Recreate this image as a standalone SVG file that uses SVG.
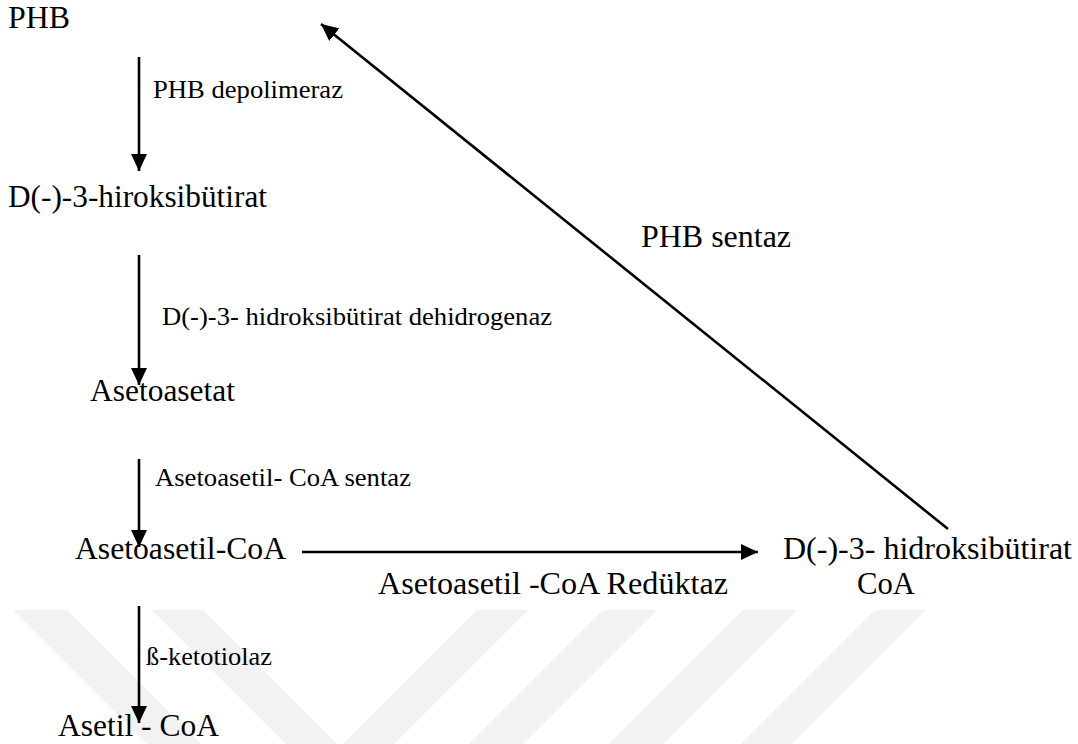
<svg xmlns="http://www.w3.org/2000/svg" width="1078" height="744" viewBox="0 0 1078 744">
<style>
text{font-family:"Liberation Serif","Times New Roman",Times,"DejaVu Serif",serif;fill:#000}
.n{font-size:31.5px}
.l{font-size:25.5px}
.c{stroke:#000;stroke-width:2.6;fill:none}
.wm{fill:#f2f2f2}
</style>
<defs>
<marker id="ah" markerUnits="userSpaceOnUse" markerWidth="17" markerHeight="16" refX="17" refY="8" orient="auto">
<path d="M0,0 L17,8 L0,16 z" fill="#000"/>
</marker>
</defs>
<rect width="1078" height="744" fill="#fff"/>
<g id="watermark">
<polygon class="wm" points="13,610 67,610 201,744 147,744"/>
<polygon class="wm" points="152,610 203,610 337,744 286,744"/>
<polygon class="wm" points="477,610 528,610 394,744 343,744"/>
<polygon class="wm" points="603,610 657,610 523,744 469,744"/>
<polygon class="wm" points="743,610 797,610 663,744 609,744"/>
<polygon class="wm" points="875,610 926,610 792,744 741,744"/>
</g>
<g id="connectors">
<line class="c" x1="139" y1="57" x2="139" y2="171" marker-end="url(#ah)"/>
<line class="c" x1="139" y1="255" x2="139" y2="385" marker-end="url(#ah)"/>
<line class="c" x1="139" y1="459" x2="139" y2="547" marker-end="url(#ah)"/>
<line class="c" x1="139" y1="606" x2="139" y2="723" marker-end="url(#ah)"/>
<line class="c" x1="302" y1="552" x2="758" y2="552" marker-end="url(#ah)"/>
<line class="c" x1="948" y1="529" x2="321" y2="24" marker-end="url(#ah)"/>
</g>
<g id="n-phb"><text class="n" x="8" y="28" textLength="62" lengthAdjust="spacingAndGlyphs">PHB</text></g>
<g id="l-depolimeraz"><text class="l" x="153" y="98" textLength="190" lengthAdjust="spacingAndGlyphs">PHB depolimeraz</text></g>
<g id="n-hiroksibutirat"><text class="n" x="8" y="207" textLength="259" lengthAdjust="spacingAndGlyphs">D(-)-3-hiroksibütirat</text></g>
<g id="l-dehidrogenaz"><text class="l" x="162" y="325" textLength="390" lengthAdjust="spacingAndGlyphs">D(-)-3- hidroksibütirat dehidrogenaz</text></g>
<g id="n-asetoasetat"><text class="n" x="90" y="401" textLength="145" lengthAdjust="spacingAndGlyphs">Asetoasetat</text></g>
<g id="l-coa-sentaz"><text class="l" x="155" y="486" textLength="256" lengthAdjust="spacingAndGlyphs">Asetoasetil- CoA sentaz</text></g>
<g id="n-asetoasetil-coa"><text class="n" x="75" y="559" textLength="211" lengthAdjust="spacingAndGlyphs">Asetoasetil-CoA</text></g>
<g id="l-reduktaz"><text class="n" x="378" y="594" textLength="350" lengthAdjust="spacingAndGlyphs">Asetoasetil -CoA Redüktaz</text></g>
<g id="n-hidroksibutirat-coa">
<text class="n" x="783" y="559" textLength="289" lengthAdjust="spacingAndGlyphs">D(-)-3- hidroksibütirat</text>
<text class="n" x="857" y="594" textLength="58" lengthAdjust="spacingAndGlyphs">CoA</text>
</g>
<g id="l-phb-sentaz"><text class="n" x="641" y="247" textLength="150" lengthAdjust="spacingAndGlyphs">PHB sentaz</text></g>
<g id="l-ketotiolaz"><text class="l" x="146" y="665" textLength="126" lengthAdjust="spacingAndGlyphs">ß-ketotiolaz</text></g>
<g id="n-asetil-coa"><text class="n" x="58" y="736" textLength="161" lengthAdjust="spacingAndGlyphs">Asetil - CoA</text></g>
</svg>
